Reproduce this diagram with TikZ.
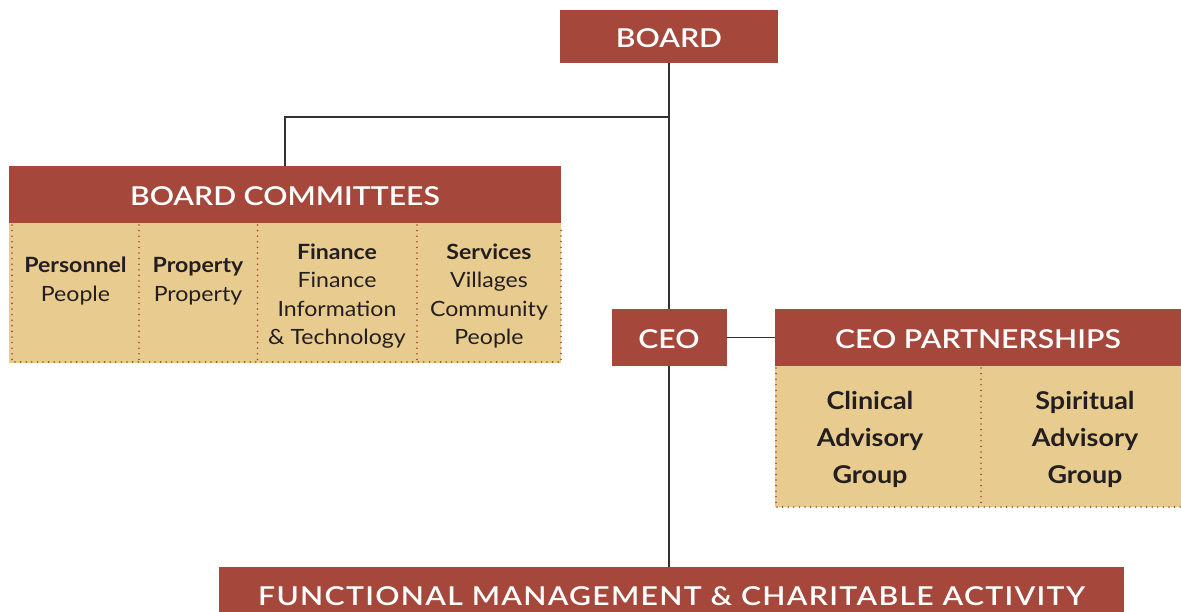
\documentclass[tikz,border=0pt]{standalone}
\usepackage{fontspec}
\setmainfont{Lato}[FakeStretch=1.1]
\newfontfamily\headfont{Lato Semibold}[FakeStretch=1.16]
\newfontfamily\widehead{Lato Semibold}[FakeStretch=1.16, LetterSpace=5]
\usepackage{tikz}
\usetikzlibrary{positioning}
\definecolor{hdRed}{RGB}{165, 71, 58}
\definecolor{cellTan}{RGB}{232, 203, 142}
\definecolor{txtDark}{RGB}{35, 31, 32}
\definecolor{lineGray}{RGB}{50, 50, 50}

\tikzset{
  header/.style={fill=hdRed, text=white, inner sep=0pt,
    text height=21.6pt, text depth=0pt,
    font=\headfont\fontsize{26}{30}\selectfont},
  cell/.style={text=txtDark, align=center, inner sep=0pt,
    font=\fontsize{21}{28.5}\selectfont},
  bigcell/.style={text=txtDark, align=center, inner sep=0pt,
    font=\fontsize{24.5}{37}\selectfont\bfseries},
  dotrule/.style={hdRed, line width=1.8pt, dash pattern=on 0pt off 5.6pt, line cap=round},
  link/.style={lineGray, line width=1.8pt}
}

\begin{document}
\begin{tikzpicture}[x=1pt, y=-1pt]
  \useasboundingbox (0,0) rectangle (1181,612);

  % Header boxes
  \node[header, minimum width=218, minimum height=53] (board) at (669,36.5) {BOARD};
  \node[header, minimum width=552, minimum height=57] (bc) at (285,194.5) {BOARD COMMITTEES};
  \node[header, minimum width=115, minimum height=57] (ceo) at (669,337.5) {CEO};
  \node[header, minimum width=406, minimum height=57] (cp) at (978,337.5) {CEO PARTNERSHIPS};
  \node[header, font=\widehead\fontsize{26}{30}\selectfont, minimum width=905, minimum height=56] (fm) at (671.5,595) {FUNCTIONAL MANAGEMENT \& CHARITABLE ACTIVITY};

  % Committee panel
  \fill[cellTan] (bc.south west) rectangle (561,363);
  \draw[dotrule] (12,225) -- (12,362) -- (561,362) -- (561,225);
  \foreach \x in {139,257.5,417}
    \draw[dotrule] (\x,225) -- (\x,362);

  % Partnership panel
  \fill[cellTan] (cp.south west) rectangle (1181,507);
  \draw[dotrule] (776,368) -- (776,507) -- (1181,507);
  \draw[dotrule] (981,368) -- (981,507);

  % Cell texts
  \node[cell] (personnel) at (75.5,281) {\textbf{Personnel}\\People};
  \node[cell] (property) at (198,281) {\textbf{Property}\\Property};
  \node[cell] (finance) at (337,296) {\textbf{Finance}\\Finance\\Information\\\& Technology};
  \node[cell] (services) at (489,296) {\textbf{Services}\\Villages\\Community\\People};
  \node[bigcell] (clinical) at (870,439) {Clinical\\Advisory\\Group};
  \node[bigcell] (spiritual) at (1085,439) {Spiritual\\Advisory\\Group};

  % Connectors
  \coordinate (split) at (669,117);
  \draw[link] (board.south) -- (ceo.north);
  \draw[link] (bc.north) |- (split);
  \draw[link] (ceo.east) -- (cp.west);
  \draw[link] (ceo.south) -- (ceo.south |- fm.north);
\end{tikzpicture}
\end{document}
